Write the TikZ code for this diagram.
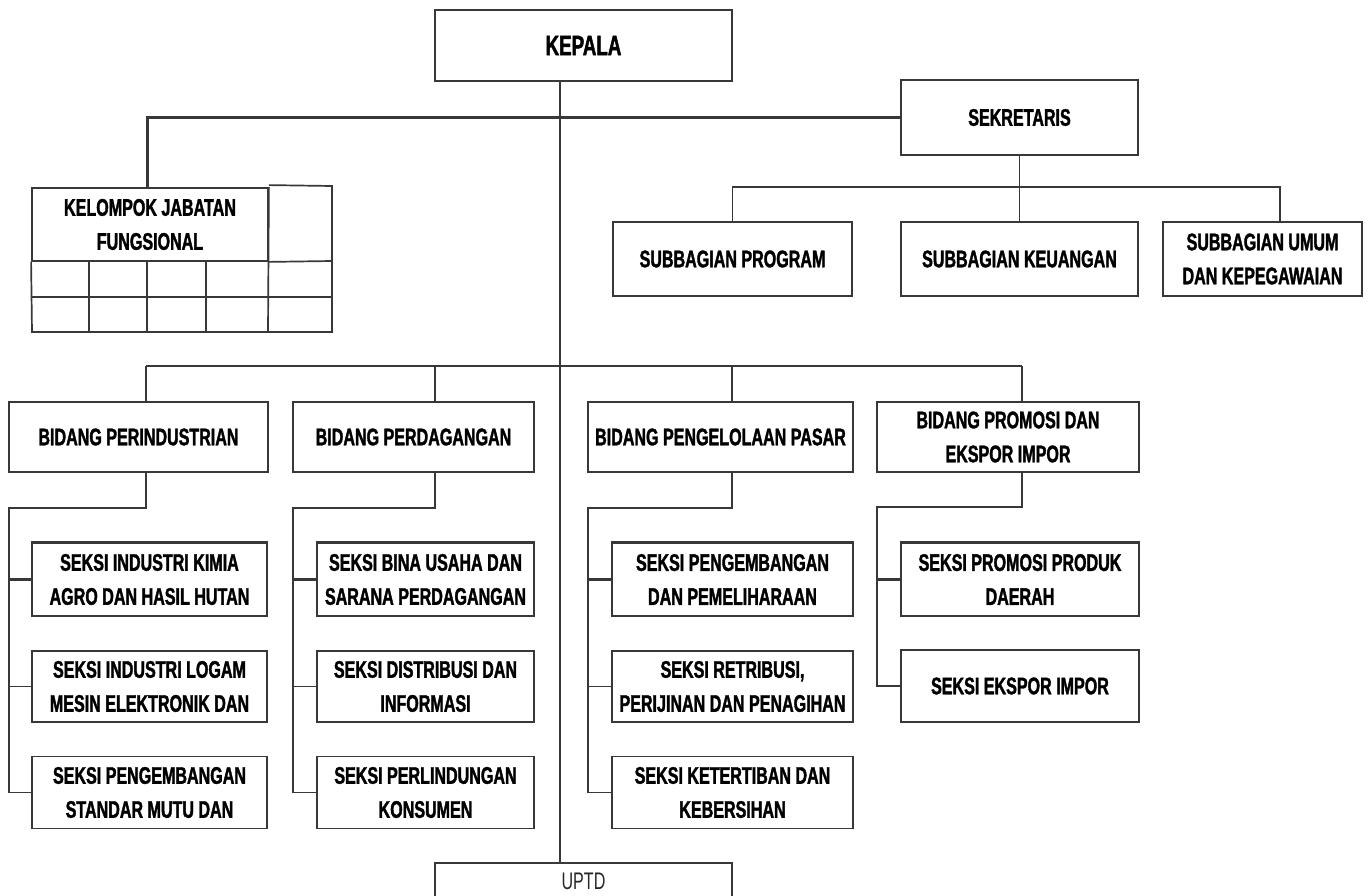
\documentclass[tikz,border=0pt]{standalone}
\usepackage{fontspec}
\setmainfont[FakeStretch=0.67,BoldFeatures={FakeBold=1.5}]{Liberation Sans}
\definecolor{lc}{gray}{0.22}
\begin{document}
\begin{tikzpicture}[x=1pt,y=-1pt,
  ln/.style={draw=lc,line width=1.7pt},
  thinln/.style={draw=lc,line width=1.3pt},
  thickln/.style={draw=lc,line width=3pt},
  box/.style={draw=lc,line width=1.8pt,fill=white,inner sep=2pt,align=center,
    text=black,font=\fontsize{24}{34}\selectfont\bfseries},
]
\useasboundingbox (0,0) rectangle (1368,896);

% top level
\node[box,minimum width=297pt,minimum height=71pt,font=\fontsize{28}{34}\selectfont\bfseries] (kepala) at (583.5,45.5) {KEPALA};
\node[box,minimum width=237pt,minimum height=75pt] (sekretaris) at (1019.5,117.5) {SEKRETARIS};
\node[box,minimum width=239pt,minimum height=74pt] (sprog) at (732.5,259) {SUBBAGIAN PROGRAM};
\node[box,minimum width=237pt,minimum height=74pt] (skeu) at (1019.5,259) {SUBBAGIAN KEUANGAN};
\node[box,minimum width=199pt,minimum height=74pt] (sumum) at (1262.5,259) {SUBBAGIAN UMUM\\DAN KEPEGAWAIAN};

% kelompok jabatan fungsional table
\node[box,minimum width=236pt,minimum height=73pt] (kjf) at (150,224.5) {KELOMPOK JABATAN\\FUNGSIONAL};
\draw[ln] (kjf.north east) ++(0,-2) -- (332,186) -- (332,332);
\draw[ln] (kjf.south east) -- (332,261);
\draw[ln] (kjf.south west) -- (32,332) -- (333,332);
\draw[ln] (32,297) -- (332,297);
\draw[ln] (kjf.north east) -- (268,332);
\draw[ln] (89,261) -- (89,332);
\draw[ln] (206,261) -- (206,332);
\draw[thickln,line width=2.2pt] (147,261) -- (147,332);

% bidang
\node[box,minimum width=259pt,minimum height=70pt] (bperind) at (138.5,437) {BIDANG PERINDUSTRIAN};
\node[box,minimum width=241pt,minimum height=70pt] (bperdag) at (413.5,437) {BIDANG PERDAGANGAN};
\node[box,minimum width=265pt,minimum height=70pt] (bpasar) at (720.5,437) {BIDANG PENGELOLAAN PASAR};
\node[box,minimum width=262pt,minimum height=70pt] (bpromo) at (1008,437) {BIDANG PROMOSI DAN\\EKSPOR IMPOR};

% seksi column 1
\node[box,minimum width=235pt,minimum height=73pt] (s1a) at (149.5,579.5) {SEKSI INDUSTRI KIMIA\\AGRO DAN HASIL HUTAN};
\node[box,minimum width=235pt,minimum height=71pt] (s1b) at (149.5,686.5) {SEKSI INDUSTRI LOGAM\\MESIN ELEKTRONIK DAN};
\node[box,minimum width=235pt,minimum height=72pt] (s1c) at (149.5,792.5) {SEKSI PENGEMBANGAN\\STANDAR MUTU DAN};
% column 2
\node[box,minimum width=217pt,minimum height=73pt] (s2a) at (425.5,579.5) {SEKSI BINA USAHA DAN\\SARANA PERDAGANGAN};
\node[box,minimum width=217pt,minimum height=71pt] (s2b) at (425.5,686.5) {SEKSI DISTRIBUSI DAN\\INFORMASI};
\node[box,minimum width=217pt,minimum height=72pt] (s2c) at (425.5,792.5) {SEKSI PERLINDUNGAN\\KONSUMEN};
% column 3
\node[box,minimum width=241pt,minimum height=73pt] (s3a) at (732.5,579.5) {SEKSI PENGEMBANGAN\\DAN PEMELIHARAAN};
\node[box,minimum width=241pt,minimum height=71pt] (s3b) at (732.5,686.5) {SEKSI RETRIBUSI,\\PERIJINAN DAN PENAGIHAN};
\node[box,minimum width=241pt,minimum height=72pt] (s3c) at (732.5,792.5) {SEKSI KETERTIBAN DAN\\KEBERSIHAN};
% column 4
\node[box,minimum width=238pt,minimum height=73pt] (s4a) at (1020,579.5) {SEKSI PROMOSI PRODUK\\DAERAH};
\node[box,minimum width=238pt,minimum height=72pt] (s4b) at (1020,686) {SEKSI EKSPOR IMPOR};

% UPTD
\node[minimum width=297pt,minimum height=36pt,anchor=north,inner sep=0pt,
  text=black!85,font=\fontsize{24}{34}\selectfont] (uptd) at (583.5,863) {UPTD};
\draw[ln] (uptd.south west) -- (uptd.north west) -- (uptd.north east) -- (uptd.south east);

% connectors
\coordinate (spine) at (560,366);
\draw[thinln] (kepala.south -| spine) -- (uptd.north -| spine);

\coordinate (j1) at (147,118);
\draw[thickln] (sekretaris.west |- j1) -- (j1) -- (kjf.north -| j1);

\coordinate (sbR) at (1280,187);
\draw[ln] (sekretaris.south -| skeu.north) -- (skeu.north);
\draw[ln] (sprog.north) -- (sprog.north |- sbR) -- (sbR) -- (sumum.north -| sbR);

\coordinate (d1) at (146,366);
\coordinate (d2) at (435,366);
\coordinate (d3) at (732,366);
\coordinate (d4) at (1022,366);
\draw[thickln,line width=2.4pt] (d1) -- (d4);
\draw[ln] (d1) -- (bperind.north -| d1);
\draw[ln] (d2) -- (bperdag.north -| d2);
\draw[ln] (d3) -- (bpasar.north -| d3);
\draw[ln] (d4) -- (bpromo.north -| d4);

% column branches
\coordinate (h1) at (9,508);
\draw[ln] (bperind.south -| d1) -- (d1 |- h1) -- (h1) -- (h1 |- s1c.west) -- (s1c.west);
\draw[thickln] (h1 |- s1a.west) -- (s1a.west);
\draw[ln] (h1 |- s1b.west) -- (s1b.west);
\draw[thickln,line width=2.4pt] (s1a.north west) -- (s1a.north east);

\coordinate (h2) at (293,508);
\draw[ln] (bperdag.south -| d2) -- (d2 |- h2) -- (h2) -- (h2 |- s2c.west) -- (s2c.west);
\draw[thickln] (h2 |- s2a.west) -- (s2a.west);
\draw[ln] (h2 |- s2b.west) -- (s2b.west);
\draw[thickln,line width=2.4pt] (s2a.north west) -- (s2a.north east);

\coordinate (h3) at (588,508);
\draw[ln] (bpasar.south -| d3) -- (d3 |- h3) -- (h3) -- (h3 |- s3c.west) -- (s3c.west);
\draw[thickln] (h3 |- s3a.west) -- (s3a.west);
\draw[ln] (h3 |- s3b.west) -- (s3b.west);
\draw[thickln,line width=2.4pt] (s3a.north west) -- (s3a.north east);

\coordinate (h4) at (877,507);
\draw[ln] (bpromo.south -| d4) -- (d4 |- h4) -- (h4) -- (h4 |- s4b.west) -- (s4b.west);
\draw[thickln] (h4 |- s4a.west) -- (s4a.west);
\draw[thickln,line width=2.4pt] (s4a.north west) -- (s4a.north east);
\end{tikzpicture}
\end{document}
